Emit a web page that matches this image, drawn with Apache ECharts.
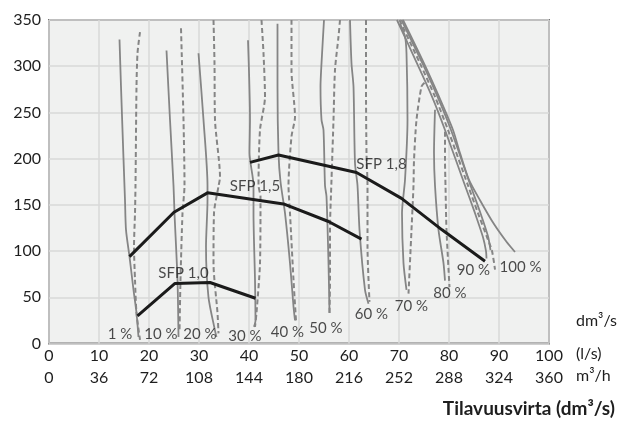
<!DOCTYPE html>
<html><head><meta charset="utf-8">
<script src="https://cdn.jsdelivr.net/npm/echarts@6/dist/echarts.min.js"></script>
<style>html,body{margin:0;padding:0;background:#fff;}#c{width:625px;height:421px;}</style>
</head><body><div id="c"></div>
<script>
// ---- data ----
const xTicksLs = [0,10,20,30,40,50,60,70,80,90,100];
const xTicksM3h = [0,36,72,108,144,180,216,252,288,324,360];
const yTicks = [0,50,100,150,200,250,300,350];

const pctLabels = ['1 %','10 %','20 %','30 %','40 %','50 %','60 %','70 %','80 %','90 %','100 %'];
const pctLabelPos = [[14.2,10],[22.4,10],[30.2,10],[39.2,8],[47.7,12],[55.4,17],[64.5,32],[72.5,40],[80.2,54],[84.9,79],[94.3,83]];

const solidCurves = [
  [[14.1,329],[14.4,278],[14.9,200],[15.2,155],[15.4,123],[16.1,94],[16.9,58],[17.5,33],[17.9,7]],
  [[23.5,317],[24.2,242],[24.9,171],[25.1,141],[25.7,69],[25.9,7]],
  [[29.9,314],[30.9,242],[31.7,171],[31.7,155],[31.4,105],[31.9,50],[33.2,14],[33.5,7]],
  [[39.8,328],[40.2,242],[40.1,206],[40.9,171],[40.9,141],[41.2,69],[41.3,25],[41.0,18]],
  [[45.7,346],[45.7,278],[45.9,206],[46.3,175],[47.2,141],[48.2,87],[48.9,40],[49.2,25]],
  [[55.0,350],[54.5,303],[54.3,278],[54.5,242],[54.9,231],[55.2,171],[55.5,159],[55.9,87],[56.1,33]],
  [[60.2,350],[60.5,303],[60.9,278],[61.2,195],[61.7,171],[62.1,123],[63.2,58],[63.9,43]],
  [[70.2,346],[71.2,332],[71.5,314],[71.7,242],[71.2,177],[70.6,141],[70.9,87],[71.5,58]],
  [[77.2,253],[77.0,206],[77.2,171],[77.9,123],[78.9,87],[79.2,68]],
  [[69.6,350],[73.6,303],[76.6,267],[79.2,231],[83.2,171],[85.2,141],[86.8,115],[87.4,100],[87.5,92]],
  [[70.5,350],[74.7,303],[77.7,267],[80.4,231],[84.3,171],[86.3,141],[87.8,116],[88.3,101]],
  [[70.8,350],[75.0,303],[78.0,267],[80.8,231],[82.2,206],[84.0,177],[86.2,155],[88.9,130],[91.5,110],[93.2,99]]
];
const dashedCurves = [
  [[18.2,337],[17.7,314],[17.5,278],[17.3,171],[17.2,141],[17.0,105],[17.2,69],[17.5,33],[18.2,4]],
  [[26.4,341],[26.9,242],[27.1,171],[26.7,141],[26.3,69],[26.1,13]],
  [[32.9,350],[33.1,303],[33.2,242],[34.2,180],[33.9,170],[33.0,141],[32.9,87],[33.7,33],[33.9,11]],
  [[42.5,350],[42.9,314],[43.2,267],[42.2,231],[41.9,171],[42.3,159],[42.2,87],[41.5,33],[41.2,18]],
  [[48.5,350],[48.5,296],[49.2,245],[48.5,224],[47.9,171],[48.2,141],[48.9,69],[49.4,25]],
  [[58.2,350],[57.9,332],[57.2,296],[56.9,242],[56.5,177],[56.2,123],[56.2,69],[56.1,33]],
  [[63.4,350],[63.4,278],[63.5,206],[63.7,171],[63.7,105],[64.1,45]],
  [[75.1,282],[74.5,278],[73.5,242],[73.0,198],[72.9,171],[72.5,123],[71.9,54]],
  [[79.2,229],[79.2,198],[79.3,171],[79.5,123],[80.1,61]],
  [[70.1,350],[74.2,303],[77.2,267],[79.8,231],[83.8,171],[85.8,141],[87.6,115],[88.6,100],[89.2,80]]
];

const sfpNames = ['SFP 1,0','SFP 1,5','SFP 1,8'];
const sfpCurves = [
  [[17.7,30],[25.2,65],[32.2,66],[41.3,49]],
  [[16.1,94],[25.0,142],[31.7,163],[46.9,151],[55.9,132],[62.5,113]],
  [[40.2,196],[45.9,204],[61.5,185],[70.5,157],[78.6,123],[87.2,89]]
];
const sfpLabelPos = [[26.9,76],[41.2,170],[66.5,194]];

// ---- chart ----
const FONT = 'Lato';
const GRAY = '#858585';
const series = [];
solidCurves.forEach(c => series.push({type:'line', data:c, showSymbol:false, smooth:0.25, silent:true,
  lineStyle:{color:GRAY, width:1.8}, z:2}));
dashedCurves.forEach(c => series.push({type:'line', data:c, showSymbol:false, smooth:0.25, silent:true,
  lineStyle:{color:GRAY, width:2, type:[5,3]}, z:2}));
sfpCurves.forEach(c => series.push({type:'line', data:c, showSymbol:false, silent:true,
  lineStyle:{color:'#1b1b1b', width:3, join:'round'}, z:4}));
series.push({type:'scatter', symbolSize:0, silent:true, z:5,
  data: pctLabelPos.map((p,i)=>({value:p, label:{formatter:pctLabels[i]}})),
  label:{show:true, position:'inside', color:'#1e1e1e', fontSize:15, fontFamily:FONT}});
series.push({type:'scatter', symbolSize:0, silent:true, z:5,
  data: sfpLabelPos.map((p,i)=>({value:p, label:{formatter:sfpNames[i]}})),
  label:{show:true, position:'inside', color:'#1e1e1e', fontSize:15, fontFamily:FONT}});

const chart = echarts.init(document.getElementById('c'), null, {renderer:'canvas'});
chart.setOption({
  animation:false,
  backgroundColor:'#ffffff',
  grid:{left:49, right:76, top:20, bottom:77.5, show:true, backgroundColor:'#f0f1f0', borderColor:'#747474', borderWidth:2},
  xAxis:[
    {type:'value', min:0, max:100, interval:10,
     axisLine:{show:false}, axisTick:{show:false},
     axisLabel:{fontSize:16, color:'#1e1e1e', fontFamily:FONT, margin:4, formatter:v=>String(xTicksLs[Math.round(v/10)])},
     splitLine:{show:true, lineStyle:{color:'#d9d9d9', width:1.5}}},
    {type:'value', min:0, max:360, interval:36, position:'bottom', offset:22,
     axisLine:{show:false}, axisTick:{show:false}, splitLine:{show:false},
     axisLabel:{fontSize:16, color:'#1e1e1e', fontFamily:FONT, margin:4, formatter:v=>String(xTicksM3h[Math.round(v/36)])}}
  ],
  yAxis:{type:'value', min:0, max:350, interval:50,
     axisLine:{show:false}, axisTick:{show:false},
     axisLabel:{fontSize:16, color:'#1e1e1e', fontFamily:FONT, margin:8, formatter:v=>String(yTicks[Math.round(v/50)])},
     splitLine:{show:true, lineStyle:{color:'#d9d9d9', width:1.5}}},
  graphic:[
    {type:'text', left:576, top:313, style:{text:'dm³/s', fontSize:16, fill:'#1e1e1e', fontFamily:FONT}},
    {type:'text', left:576, top:346, style:{text:'(l/s)', fontSize:16, fill:'#1e1e1e', fontFamily:FONT}},
    {type:'text', left:576, top:368, style:{text:'m³/h', fontSize:16, fill:'#1e1e1e', fontFamily:FONT}},
    {type:'text', right:10, top:399, style:{text:'Tilavuusvirta (dm³/s)', fontSize:19, fontWeight:'bold', fill:'#1e1e1e', fontFamily:FONT}}
  ],
  series: series
});
</script></body></html>
